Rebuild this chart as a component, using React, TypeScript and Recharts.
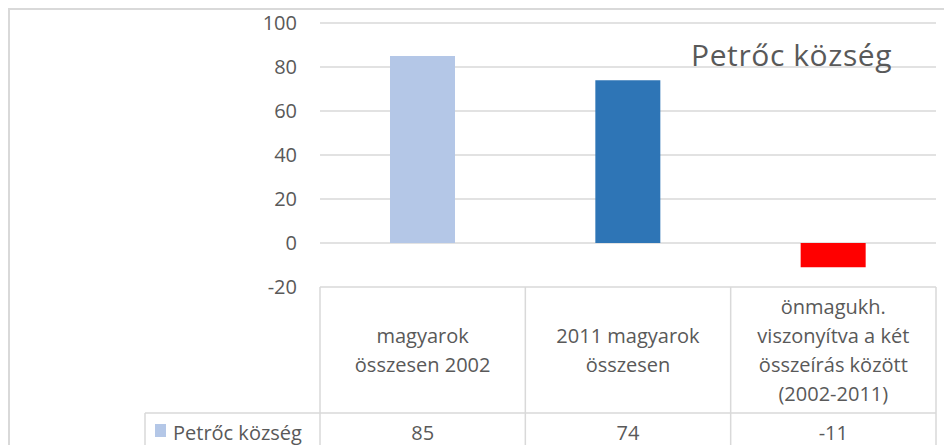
import { BarChart, Bar, XAxis, YAxis, CartesianGrid, Cell } from "recharts";

const categories = ["magyarok\nösszesen 2002", "2011 magyarok\nösszesen", "önmagukh.\nviszonyítva a két\nösszeírás között\n(2002-2011)"];
const values = [85, 74, -11];
const barColors = ["#b4c7e7", "#2e75b6", "#ff0000"];
const yTicks = [-20, 0, 20, 40, 60, 80, 100];
const seriesName = "Petrőc község";

const data = categories.map((name, i) => ({ name, value: values[i] }));

const FONT = "'Open Sans', sans-serif";
const TEXT = "#595959";
const LINE = "#d9d9d9";

// one column of the data table under the plot: header cell + value cell
function TableCell(props: any) {
  const { x, y, payload, index } = props;
  const half = payload?.offset || 102.7;
  const left = x - half;
  const right = x + half;
  const rowY = y + 126;
  const lines = String(payload.value).split("\n");
  const lh = 29;
  const midY = y + 63;
  return (
    <g>
      <line x1={left} y1={y} x2={left} y2={450} stroke={LINE} strokeWidth={1.5} />
      {index === categories.length - 1 && (
        <line x1={right} y1={y} x2={right} y2={450} stroke={LINE} strokeWidth={1.5} />
      )}
      <line x1={index === 0 ? left - 175 : left} y1={rowY} x2={right} y2={rowY} stroke={LINE} strokeWidth={1.5} />
      {lines.map((t, i) => (
        <text
          key={i}
          x={x}
          y={midY + (i - (lines.length - 1) / 2) * lh}
          textAnchor="middle"
          dominantBaseline="central"
          fontFamily={FONT}
          fontSize={20}
          fill={TEXT}
        >
          {t}
        </text>
      ))}
      <text x={x} y={rowY + 19} textAnchor="middle" dominantBaseline="central" fontFamily={FONT} fontSize={20} fill={TEXT}>
        {values[index]}
      </text>
      {index === 0 && (
        <g>
          <line x1={left - 175} y1={rowY} x2={left - 175} y2={450} stroke={LINE} strokeWidth={1.5} />
          <rect x={left - 165} y={rowY + 11} width={11} height={13} fill={barColors[0]} />
          <text x={left - 147} y={rowY + 19} dominantBaseline="central" fontFamily={FONT} fontSize={20} fill={TEXT}>
            {seriesName}
          </text>
        </g>
      )}
    </g>
  );
}

export default function App() {
  return (
    <div style={{ position: "fixed", left: 0, top: 0, width: 944, height: 445, overflow: "hidden", background: "#fff" }}>
      <div
        style={{
          position: "absolute",
          left: 8,
          top: 8,
          width: 1000,
          height: 500,
          borderTop: `2px solid ${LINE}`,
          borderLeft: `2px solid ${LINE}`,
          boxSizing: "border-box",
        }}
      />
      <div style={{ position: "absolute", left: 0, top: 0 }}>
        <BarChart width={944} height={445} data={data} margin={{ top: 23, right: 8, bottom: 0, left: 0 }} barSize={65}>
          <CartesianGrid horizontal vertical={false} stroke={LINE} strokeWidth={1.5} />
          <YAxis
            type="number"
            domain={[-20, 100]}
            ticks={yTicks}
            width={320}
            axisLine={false}
            tickLine={false}
            tickSize={0}
            tickMargin={23}
            tick={{ fill: TEXT, fontSize: 20, fontFamily: FONT }}
          />
          <XAxis
            dataKey="name"
            height={158}
            axisLine={false}
            tickLine={false}
            tickSize={0}
            tickMargin={0}
            interval={0}
            tick={<TableCell />}
          />
          <Bar dataKey="value" isAnimationActive={false}>
            {data.map((d, i) => (
              <Cell key={d.name} fill={barColors[i]} />
            ))}
          </Bar>
        </BarChart>
      </div>
      <div
        style={{
          position: "absolute",
          left: 691,
          top: 37,
          fontFamily: FONT,
          fontSize: 30,
          color: TEXT,
          lineHeight: "36px",
          whiteSpace: "nowrap",
          letterSpacing: 0.6,
        }}
      >
        {seriesName}
      </div>
    </div>
  );
}
